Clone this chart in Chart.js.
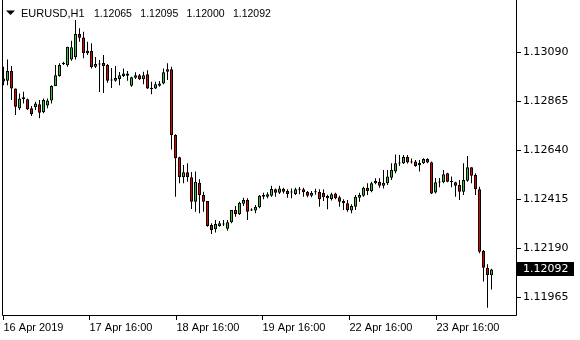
<!DOCTYPE html>
<html>
<head>
<meta charset="utf-8">
<script src="https://cdn.jsdelivr.net/npm/chart.js@4.4.0/dist/chart.umd.min.js"></script>
<style>
  html, body { margin: 0; padding: 0; background: #fff; }
  canvas { display: block; }
</style>
</head>
<body>
<canvas id="chart" width="580" height="340"></canvas>
<script>
// EURUSD H1 bars (oldest first)
const symbol = 'EURUSD,H1';

const opens = [
  1.12968, 1.12958, 1.13003, 1.12923, 1.12832, 1.12882, 1.12873, 1.12832, 1.12836, 1.12850,
  1.12813, 1.12845, 1.12867, 1.12934, 1.12980, 1.13034, 1.13029, 1.13056, 1.13066, 1.13173,
  1.13157, 1.13084, 1.13095, 1.13023, 1.13033, 1.13040, 1.13030, 1.12962, 1.12958, 1.12966,
  1.12980, 1.12992, 1.12935, 1.12972, 1.12983, 1.12965, 1.12988, 1.12926, 1.12923, 1.12935,
  1.12946, 1.13000, 1.13011, 1.12709, 1.12607, 1.12515, 1.12538, 1.12515, 1.12403, 1.12490,
  1.12434, 1.12406, 1.12296, 1.12276, 1.12291, 1.12298, 1.12279, 1.12308, 1.12365, 1.12345,
  1.12394, 1.12411, 1.12365, 1.12362, 1.12377, 1.12426, 1.12426, 1.12430, 1.12460, 1.12444,
  1.12462, 1.12452, 1.12446, 1.12438, 1.12459, 1.12460, 1.12447, 1.12430, 1.12447, 1.12447,
  1.12444, 1.12429, 1.12415, 1.12441, 1.12423, 1.12406, 1.12396, 1.12362, 1.12380, 1.12421,
  1.12430, 1.12467, 1.12452, 1.12487, 1.12495, 1.12476, 1.12487, 1.12513, 1.12541, 1.12579,
  1.12579, 1.12608, 1.12587, 1.12587, 1.12570, 1.12579, 1.12599, 1.12584, 1.12445, 1.12492,
  1.12492, 1.12533, 1.12495, 1.12492, 1.12480, 1.12449, 1.12499, 1.12561, 1.12525, 1.12460,
  1.12177, 1.12100, 1.12065
];
const highs = [
  1.13022, 1.13056, 1.13026, 1.12923, 1.12900, 1.12908, 1.12877, 1.12842, 1.12862, 1.12870,
  1.12877, 1.12877, 1.12938, 1.13030, 1.13038, 1.13045, 1.13114, 1.13142, 1.13237, 1.13199,
  1.13183, 1.13137, 1.13130, 1.13067, 1.13053, 1.13076, 1.13035, 1.13017, 1.13026, 1.12998,
  1.13015, 1.13003, 1.12977, 1.12997, 1.12989, 1.13000, 1.13007, 1.12954, 1.12954, 1.12957,
  1.13015, 1.13038, 1.13022, 1.12712, 1.12609, 1.12571, 1.12579, 1.12539, 1.12541, 1.12506,
  1.12449, 1.12406, 1.12304, 1.12319, 1.12314, 1.12319, 1.12319, 1.12365, 1.12383, 1.12403,
  1.12421, 1.12419, 1.12373, 1.12388, 1.12434, 1.12444, 1.12446, 1.12476, 1.12464, 1.12476,
  1.12467, 1.12460, 1.12464, 1.12467, 1.12470, 1.12467, 1.12452, 1.12452, 1.12462, 1.12460,
  1.12460, 1.12435, 1.12444, 1.12444, 1.12430, 1.12414, 1.12411, 1.12391, 1.12434, 1.12444,
  1.12472, 1.12487, 1.12495, 1.12510, 1.12510, 1.12548, 1.12548, 1.12579, 1.12620, 1.12617,
  1.12617, 1.12617, 1.12601, 1.12594, 1.12594, 1.12602, 1.12602, 1.12587, 1.12512, 1.12512,
  1.12548, 1.12536, 1.12518, 1.12495, 1.12502, 1.12579, 1.12613, 1.12561, 1.12533, 1.12472,
  1.12181, 1.12116, 1.12095
];
const lows = [
  1.12938, 1.12938, 1.12870, 1.12801, 1.12824, 1.12854, 1.12824, 1.12796, 1.12824, 1.12786,
  1.12809, 1.12832, 1.12854, 1.12934, 1.12977, 1.13030, 1.13022, 1.13050, 1.13056, 1.13137,
  1.13061, 1.13076, 1.13015, 1.13017, 1.12906, 1.12902, 1.12949, 1.12925, 1.12954, 1.12938,
  1.12975, 1.12958, 1.12931, 1.12966, 1.12962, 1.12942, 1.12920, 1.12896, 1.12920, 1.12931,
  1.12942, 1.12962, 1.12643, 1.12426, 1.12487, 1.12487, 1.12495, 1.12369, 1.12357, 1.12350,
  1.12357, 1.12288, 1.12255, 1.12261, 1.12288, 1.12291, 1.12270, 1.12304, 1.12334, 1.12342,
  1.12383, 1.12319, 1.12360, 1.12350, 1.12373, 1.12414, 1.12419, 1.12426, 1.12426, 1.12438,
  1.12441, 1.12421, 1.12419, 1.12434, 1.12437, 1.12426, 1.12423, 1.12423, 1.12435, 1.12380,
  1.12406, 1.12368, 1.12408, 1.12414, 1.12380, 1.12365, 1.12357, 1.12350, 1.12365, 1.12403,
  1.12426, 1.12434, 1.12446, 1.12483, 1.12467, 1.12464, 1.12480, 1.12502, 1.12533, 1.12567,
  1.12576, 1.12578, 1.12578, 1.12563, 1.12541, 1.12576, 1.12579, 1.12438, 1.12441, 1.12469,
  1.12487, 1.12492, 1.12469, 1.12426, 1.12411, 1.12434, 1.12495, 1.12487, 1.12434, 1.12166,
  1.12036, 1.11916, 1.12000
];
const closes = [
  1.12955, 1.13003, 1.12923, 1.12839, 1.12877, 1.12873, 1.12827, 1.12805, 1.12854, 1.12811,
  1.12870, 1.12867, 1.12934, 1.12984, 1.13030, 1.13040, 1.13114, 1.13112, 1.13173, 1.13156,
  1.13084, 1.13096, 1.13020, 1.13035, 1.13035, 1.13026, 1.12958, 1.12959, 1.12971, 1.12983,
  1.12992, 1.12981, 1.12974, 1.12983, 1.12965, 1.12983, 1.12923, 1.12919, 1.12942, 1.12946,
  1.12997, 1.13011, 1.12709, 1.12602, 1.12515, 1.12538, 1.12515, 1.12403, 1.12495, 1.12434,
  1.12403, 1.12291, 1.12273, 1.12301, 1.12304, 1.12301, 1.12308, 1.12365, 1.12346, 1.12398,
  1.12411, 1.12357, 1.12363, 1.12380, 1.12430, 1.12434, 1.12437, 1.12461, 1.12444, 1.12464,
  1.12449, 1.12438, 1.12445, 1.12460, 1.12458, 1.12446, 1.12430, 1.12443, 1.12446, 1.12414,
  1.12423, 1.12419, 1.12437, 1.12419, 1.12403, 1.12396, 1.12365, 1.12383, 1.12426, 1.12434,
  1.12467, 1.12452, 1.12487, 1.12498, 1.12476, 1.12490, 1.12518, 1.12548, 1.12579, 1.12578,
  1.12608, 1.12583, 1.12583, 1.12567, 1.12580, 1.12599, 1.12583, 1.12441, 1.12492, 1.12491,
  1.12529, 1.12495, 1.12493, 1.12476, 1.12449, 1.12502, 1.12561, 1.12522, 1.12460, 1.12173,
  1.12100, 1.12066, 1.12092
];

// time axis labels and the bar they sit on
const timeLabels = ['16 Apr 2019', '17 Apr 16:00', '18 Apr 16:00', '19 Apr 16:00', '22 Apr 16:00', '23 Apr 16:00'];
const timeLabelBars = [0, 21.5, 43.25, 64.75, 86.5, 108.25];

// price scale ticks
const priceTicks = [1.13090, 1.12865, 1.12640, 1.12415, 1.12190, 1.11965];

const bullColor = '#2fc42f';
const bearColor = '#e20000';

const bodies = [];
const wicks = [];
const bodyColors = [];
for (let i = 0; i < opens.length; i++) {
  bodies.push({ x: i, y: [opens[i], closes[i]] });
  wicks.push({ x: i, y: [lows[i], highs[i]] });
  bodyColors.push(closes[i] >= opens[i] ? bullColor : bearColor);
}

const last = opens.length - 1;

// frame, header text and the last price box, MT4 style
const mtDecor = {
  id: 'mtDecor',
  afterDraw(chart) {
    const ctx = chart.ctx;
    const a = chart.chartArea;
    ctx.save();
    ctx.strokeStyle = '#000';
    ctx.lineWidth = 1;
    ctx.beginPath();
    ctx.moveTo(a.left + 0.5, 0);
    ctx.lineTo(a.left + 0.5, a.bottom - 0.5);
    ctx.lineTo(a.right - 0.5, a.bottom - 0.5);
    ctx.lineTo(a.right - 0.5, 0);
    ctx.stroke();

    // header
    ctx.fillStyle = '#000';
    ctx.beginPath();
    ctx.moveTo(6, 10.5);
    ctx.lineTo(15, 10.5);
    ctx.lineTo(10.5, 15);
    ctx.closePath();
    ctx.fill();
    ctx.textBaseline = 'alphabetic';
    ctx.textAlign = 'left';
    ctx.font = '11px "Liberation Sans"';
    ctx.fillText(symbol, 21, 17);
    ctx.font = '10.5px "Liberation Sans"';
    const ohlc = [opens[last], highs[last], lows[last], closes[last]];
    ohlc.forEach((v, k) => ctx.fillText(v.toFixed(5), 94 + k * 46.3, 17));

    // last price box
    const py = Math.round(chart.scales.y.getPixelForValue(closes[last]));
    ctx.fillStyle = '#000';
    ctx.fillRect(a.right, py - 7, 57, 14);
    ctx.fillStyle = '#fff';
    ctx.font = '11px "DejaVu Sans"';
    ctx.textBaseline = 'middle';
    ctx.fillText(closes[last].toFixed(5), a.right + 6, py + 0.5);
    ctx.restore();
  }
};

new Chart(document.getElementById('chart'), {
  type: 'bar',
  data: {
    datasets: [
      {
        data: bodies,
        backgroundColor: bodyColors,
        borderColor: '#000',
        borderWidth: 1,
        borderSkipped: false,
        barThickness: 3,
        minBarLength: 1,
        inflateAmount: 0,
        grouped: false
      },
      {
        data: wicks,
        backgroundColor: '#000',
        borderWidth: 0,
        barThickness: 1,
        inflateAmount: 0,
        grouped: false
      }
    ]
  },
  options: {
    responsive: false,
    devicePixelRatio: 1,
    animation: false,
    layout: { padding: { left: 2, top: 0, right: 0, bottom: 0 } },
    plugins: { legend: { display: false }, tooltip: { enabled: false } },
    scales: {
      x: {
        type: 'linear',
        min: -0.375,
        max: 128.375,
        offset: false,
        grid: { drawOnChartArea: false, tickLength: 4, color: '#000', offset: false },
        border: { display: false },
        afterBuildTicks: s => { s.ticks = timeLabelBars.map(v => ({ value: v })); },
        ticks: {
          autoSkip: false,
          maxRotation: 0,
          align: 'start',
          padding: 1,
          color: '#000',
          font: { family: 'Liberation Sans', size: 11 },
          callback: (v, i) => timeLabels[i]
        },
        afterFit: s => { s.height = 24; s.paddingLeft = 0; s.paddingRight = 0; }
      },
      y: {
        position: 'right',
        min: 1.11878,
        max: 1.13329,
        beginAtZero: false,
        grid: { drawOnChartArea: false, tickLength: 4, color: '#000' },
        border: { display: false },
        afterBuildTicks: s => { s.ticks = priceTicks.map(v => ({ value: v })); },
        ticks: {
          padding: 2,
          color: '#000',
          font: { family: 'DejaVu Sans', size: 11 },
          callback: v => v.toFixed(5)
        },
        afterFit: s => { s.width = 63; s.paddingTop = 0; s.paddingBottom = 0; }
      }
    }
  },
  plugins: [mtDecor]
});
</script>
</body>
</html>
